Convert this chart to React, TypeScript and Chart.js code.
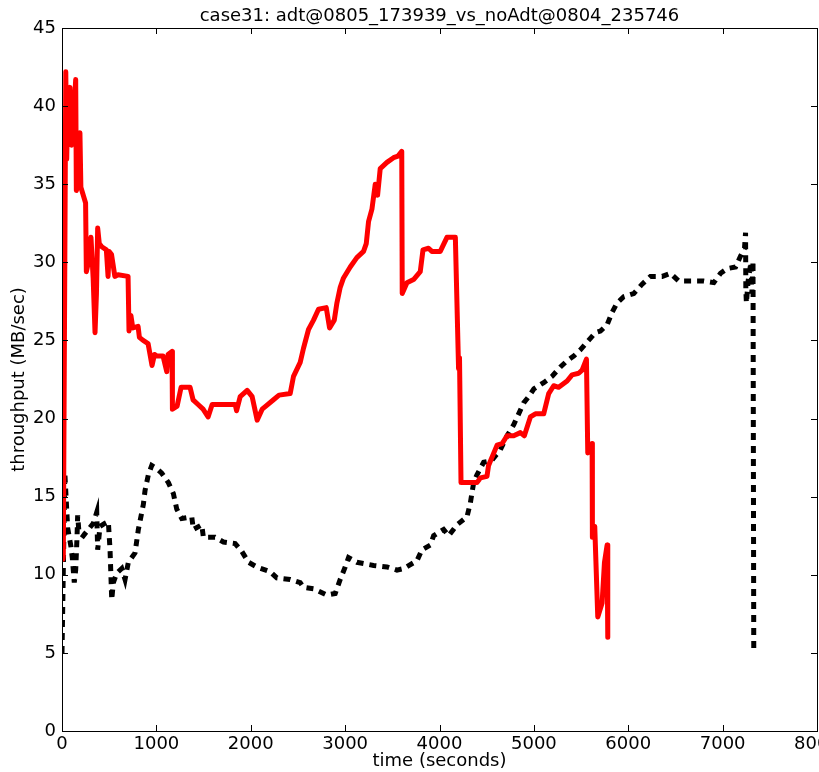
import React, { useEffect, useRef } from "react";
import { Chart, registerables } from "chart.js";

Chart.register(...registerables);

const chartTitle = "case31: adt@0805_173939_vs_noAdt@0804_235746";
const xTitle = "time (seconds)";
const yTitle = "throughput (MB/sec)";
const xTickStep = 1000;
const yTickStep = 5;

const adtX = [10, 14, 40, 50, 60, 85, 100, 110, 145, 152, 170, 190, 200, 250, 258, 280, 307, 330, 350, 365, 378, 395, 421, 470, 488, 500, 525, 540, 560, 594, 700, 710, 730, 750, 806, 820, 860, 912, 954, 980, 1007, 1071, 1110, 1124, 1166, 1170, 1220, 1262, 1357, 1389, 1442, 1495, 1548, 1591, 1675, 1835, 1850, 1888, 1962, 2015, 2068, 2121, 2160, 2241, 2300, 2418, 2453, 2524, 2559, 2612, 2665, 2718, 2800, 2835, 2885, 2913, 2948, 2983, 3054, 3124, 3195, 3224, 3248, 3284, 3319, 3344, 3372, 3443, 3513, 3560, 3600, 3605, 3655, 3725, 3796, 3825, 3884, 3919, 4008, 4079, 4168, 4202, 4212, 4228, 4397, 4433, 4503, 4520, 4610, 4663, 4716, 4786, 4857, 4899, 4963, 5016, 5104, 5157, 5210, 5263, 5352, 5405, 5475, 5511, 5557, 5571, 5600, 5617, 5620, 5645, 5677, 5723, 5748, 5776, 5783];
const adtY = [11.0, 11.2, 42.2, 36.6, 40.0, 41.2, 37.5, 37.8, 41.7, 34.6, 35.0, 38.3, 34.8, 33.8, 29.4, 30.0, 31.6, 29.0, 25.5, 28.0, 32.2, 31.2, 31.0, 30.8, 29.1, 30.7, 30.5, 29.9, 29.1, 29.2, 29.1, 25.6, 26.6, 25.8, 25.9, 25.2, 25.0, 24.8, 23.4, 24.1, 24.0, 24.0, 23.0, 24.1, 24.3, 20.6, 20.8, 22.0, 22.0, 21.2, 20.9, 20.6, 20.1, 20.9, 20.9, 20.9, 20.5, 21.4, 21.8, 21.4, 19.9, 20.6, 20.8, 21.2, 21.5, 21.6, 22.7, 23.6, 24.5, 25.7, 26.3, 27.0, 27.1, 25.8, 26.3, 27.4, 28.4, 29.0, 29.7, 30.3, 30.7, 31.2, 32.6, 33.4, 35.0, 34.3, 36.0, 36.4, 36.7, 36.8, 37.1, 28.0, 28.7, 28.9, 29.4, 30.8, 30.9, 30.7, 30.7, 31.6, 31.6, 23.2, 23.9, 15.9, 15.9, 16.2, 16.3, 17.0, 18.3, 18.4, 18.9, 18.9, 19.1, 18.9, 20.1, 20.3, 20.3, 21.6, 22.1, 22.0, 22.4, 22.8, 22.9, 23.1, 23.8, 17.8, 17.9, 18.4, 12.4, 13.1, 7.3, 8.2, 10.8, 11.9, 6.0];

const noAdtX = [0, 30, 60, 95, 109, 130, 145, 159, 166, 180, 226, 279, 332, 368, 378, 403, 456, 491, 509, 527, 544, 580, 633, 668, 703, 774, 809, 862, 880, 915, 951, 1004, 1057, 1127, 1180, 1216, 1269, 1375, 1392, 1481, 1498, 1622, 1711, 1835, 1905, 1976, 2064, 2206, 2276, 2418, 2524, 2559, 2665, 2806, 2895, 2948, 3001, 3036, 3124, 3301, 3443, 3549, 3620, 3761, 3814, 3902, 3938, 4044, 4097, 4185, 4291, 4327, 4362, 4397, 4468, 4550, 4645, 4716, 4786, 4839, 4892, 4945, 5000, 5104, 5192, 5281, 5352, 5422, 5493, 5564, 5652, 5705, 5776, 5829, 5882, 5952, 6058, 6147, 6235, 6359, 6447, 6535, 6660, 6801, 6907, 6978, 7049, 7137, 7190, 7232, 7243, 7246, 7252, 7270, 7300, 7310, 7322, 7330];
const noAdtY = [5.0, 16.5, 13.0, 11.8, 11.1, 9.5, 10.3, 12.4, 13.8, 12.7, 12.5, 12.9, 13.3, 14.0, 11.6, 13.1, 13.3, 13.4, 11.6, 8.4, 9.5, 10.1, 10.4, 9.7, 10.8, 11.4, 12.9, 14.5, 15.4, 16.4, 17.0, 16.8, 16.5, 15.9, 15.2, 14.2, 13.6, 13.7, 12.9, 13.2, 12.4, 12.4, 12.1, 12.0, 11.5, 10.8, 10.5, 10.2, 9.8, 9.7, 9.5, 9.2, 9.1, 8.7, 8.8, 9.7, 10.5, 11.1, 10.8, 10.6, 10.5, 10.3, 10.4, 10.9, 11.6, 11.9, 12.5, 12.9, 12.5, 13.2, 13.7, 14.6, 15.9, 16.4, 17.2, 17.3, 18.0, 18.9, 19.6, 20.3, 21.0, 21.4, 21.9, 22.3, 22.7, 23.3, 23.7, 24.0, 24.4, 24.9, 25.5, 25.6, 26.0, 26.8, 27.4, 27.8, 28.0, 28.6, 29.1, 29.1, 29.3, 28.8, 28.8, 28.8, 28.7, 29.3, 29.6, 29.7, 30.4, 30.9, 31.9, 28.2, 27.4, 28.8, 30.0, 28.0, 30.1, 5.0];

const toPoints = (xs: number[], ys: number[]) => xs.map((x, i) => ({ x, y: ys[i] }));

const FONT = "'DejaVu Sans', sans-serif";

const framePlugin = {
  id: "frame",
  afterDatasetsDraw(chart: any) {
    const { ctx, chartArea: a, scales } = chart;
    ctx.save();
    ctx.strokeStyle = "#000";
    ctx.lineWidth = 1;
    const tl = 6;
    ctx.beginPath();
    for (let v = 0; v <= 8000; v += xTickStep) {
      const px = Math.round(scales.x.getPixelForValue(v)) + 0.5;
      ctx.moveTo(px, a.bottom);
      ctx.lineTo(px, a.bottom - tl);
      ctx.moveTo(px, a.top);
      ctx.lineTo(px, a.top + tl);
    }
    for (let v = 0; v <= 45; v += yTickStep) {
      const py = Math.round(scales.y.getPixelForValue(v)) + 0.5;
      ctx.moveTo(a.left, py);
      ctx.lineTo(a.left + tl, py);
      ctx.moveTo(a.right, py);
      ctx.lineTo(a.right - tl, py);
    }
    ctx.stroke();
    ctx.strokeRect(Math.round(a.left) + 0.5, Math.round(a.top) + 0.5, Math.round(a.right - a.left), Math.round(a.bottom - a.top));
    ctx.fillStyle = "#000";
    ctx.font = `18px ${FONT}`;
    ctx.textAlign = "center";
    ctx.textBaseline = "middle";
    ctx.fillText(chartTitle, (a.left + a.right) / 2, 16);
    ctx.restore();
  },
};

export default function App() {
  const ref = useRef<HTMLCanvasElement | null>(null);
  useEffect(() => {
    if (!ref.current) return;
    const chart = new Chart(ref.current, {
      type: "line",
      data: {
        datasets: [
          {
            label: "adt",
            data: toPoints(adtX, adtY),
            borderColor: "#ff0000",
            borderWidth: 5,
            pointRadius: 0,
            tension: 0,
            fill: false,
            borderJoinStyle: "round",
            borderCapStyle: "round",
          },
          {
            label: "noAdt",
            data: toPoints(noAdtX, noAdtY),
            borderColor: "#000000",
            borderWidth: 5,
            borderDash: [7, 6],
            pointRadius: 0,
            tension: 0,
            fill: false,
          },
        ],
      },
      options: {
        animation: false,
        responsive: false,
        devicePixelRatio: 1,
        layout: { padding: { top: 28, right: 43, left: 0, bottom: 0 } },
        plugins: { legend: { display: false }, title: { display: false }, tooltip: { enabled: false } },
        scales: {
          x: {
            type: "linear",
            min: 0,
            max: 8000,
            grid: { display: false, drawTicks: false },
            border: { display: false },
            ticks: {
              stepSize: xTickStep,
              color: "#000",
              font: { family: FONT, size: 18 },
              padding: 3,
              maxRotation: 0,
              callback: (v: any) => String(v),
            },
            title: { display: true, text: xTitle, color: "#000", font: { family: FONT, size: 18 }, padding: 0 },
            afterFit: (s: any) => { s.height = 41; },
          },
          y: {
            type: "linear",
            min: 0,
            max: 45,
            grid: { display: false, drawTicks: false },
            border: { display: false },
            ticks: { stepSize: yTickStep, color: "#000", font: { family: FONT, size: 18 }, padding: 6, callback: (v: any) => String(v) },
            title: { display: true, text: yTitle, color: "#000", font: { family: FONT, size: 18 }, padding: 9 },
            afterFit: (s: any) => { s.width = 62; },
          },
        },
      },
      plugins: [framePlugin],
    });
    return () => chart.destroy();
  }, []);
  return (
    <div style={{ position: "absolute", left: 0, top: 0, width: 819, height: 772, overflow: "hidden", background: "#fff" }}>
      <canvas ref={ref} width={860} height={772} />
    </div>
  );
}
